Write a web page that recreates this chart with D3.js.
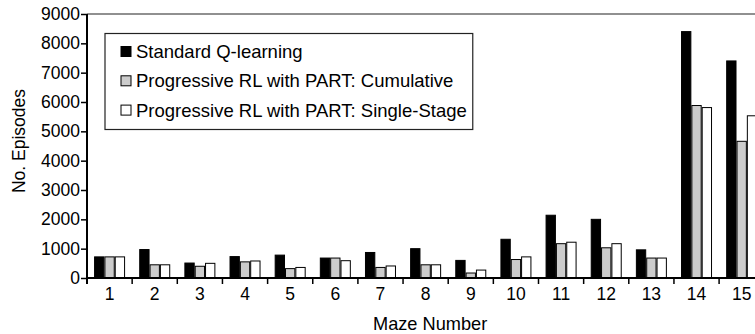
<!DOCTYPE html>
<html>
<head>
<meta charset="utf-8">
<script src="https://cdn.jsdelivr.net/npm/d3@7/dist/d3.min.js"></script>
<style>
  html, body { margin: 0; padding: 0; background: #fff; }
  svg { display: block; }
  text { font-family: "Liberation Sans", Arial, sans-serif; fill: #000; }
</style>
</head>
<body>
<svg id="chart" width="755" height="334"></svg>
<script>
const mazes = ["1","2","3","4","5","6","7","8","9","10","11","12","13","14","15"];
const seriesNames = ["Standard Q-learning", "Progressive RL with PART: Cumulative", "Progressive RL with PART: Single-Stage"];
const standardQ   = [720, 970, 510, 730, 780, 680, 870, 1000, 600, 1320, 2140, 2000, 960, 8400, 7400];
const cumulative  = [720, 450, 400, 550, 320, 680, 360, 450, 170, 630, 1170, 1030, 680, 5880, 4660];
const singleStage = [720, 450, 500, 580, 360, 590, 410, 450, 270, 720, 1220, 1170, 680, 5810, 5530];
const yTicks = [0,1000,2000,3000,4000,5000,6000,7000,8000,9000];
const fills = ["#000000", "#cccccc", "#ffffff"];

const svg = d3.select("#chart");
const pLeft = 87, pTop = 14, pBottom = 278, bandW = 45.15;
const pRight = pLeft + bandW * mazes.length;

const x = d3.scaleBand().domain(mazes).range([pLeft, pRight]).padding(0);
const groupW = 31;
const xs = d3.scaleBand().domain([0,1,2]).range([0, groupW]).padding(0);
const y = d3.scaleLinear().domain([0, 9000]).range([pBottom, pTop]);

const series = [standardQ, cumulative, singleStage];

// top frame line
svg.append("line").attr("x1", pLeft).attr("x2", 755).attr("y1", y(9000)).attr("y2", y(9000))
  .attr("stroke", "#222").attr("stroke-width", 1.2);

// bars
const groups = svg.append("g").selectAll("g").data(mazes).join("g")
  .attr("transform", d => `translate(${x(d) + (x.bandwidth() - groupW) / 2},0)`);
groups.selectAll("rect").data((d, i) => series.map((s, k) => ({k, v: s[i]}))).join("rect")
  .attr("x", d => xs(d.k) + 0.5)
  .attr("width", xs.bandwidth() - 1)
  .attr("y", d => y(d.v))
  .attr("height", d => y(0) - y(d.v))
  .attr("fill", d => fills[d.k])
  .attr("stroke", "#000").attr("stroke-width", 1);

// y axis
const yAxis = d3.axisLeft(y).tickValues(yTicks).tickSize(6).tickPadding(1).tickFormat(d3.format("d"));
const gy = svg.append("g").attr("transform", `translate(${pLeft},0)`).call(yAxis);
gy.select(".domain").attr("stroke-width", 2).attr("d", `M0,${pBottom + 6}V${pTop}`);
gy.selectAll(".tick line").attr("stroke-width", 1.5);
gy.selectAll("text").style("font-size", "17.5px");

// x axis
const xAxis = d3.axisBottom(x).tickSize(0).tickPadding(10);
const gx = svg.append("g").attr("transform", `translate(0,${pBottom})`).call(xAxis);
gx.select(".domain").attr("stroke-width", 2).attr("d", `M${pLeft},0H${pRight}`);
gx.selectAll("text").style("font-size", "17.5px");
// boundary ticks
gx.selectAll("line.bnd").data(mazes).join("line").attr("class", "bnd")
  .attr("x1", d => x(d)).attr("x2", d => x(d)).attr("y1", 0).attr("y2", 6)
  .attr("stroke", "#000").attr("stroke-width", 1.5);

// axis titles
svg.append("text").attr("x", (pLeft + pRight) / 2 + 4.5).attr("y", 330)
  .attr("text-anchor", "middle").style("font-size", "18.2px").text("Maze Number");
svg.append("text").attr("transform", `translate(25,141) rotate(-90)`)
  .attr("text-anchor", "middle").style("font-size", "17.5px").text("No. Episodes");

// legend
const lg = svg.append("g");
const lx = 105, ly = 33.5, rowH = 29.3;
const items = lg.selectAll("g").data(seriesNames).join("g")
  .attr("transform", (d, i) => `translate(${lx + 16},${ly + 18 + i * rowH})`);
items.append("rect").attr("x", 0).attr("y", -5).attr("width", 10).attr("height", 10)
  .attr("fill", (d, i) => fills[i]).attr("stroke", "#000").attr("stroke-width", 1);
items.append("text").attr("x", 15).attr("y", 6.5).style("font-size", "18.5px").text(d => d);
let maxW = 0;
items.selectAll("text").each(function() { maxW = Math.max(maxW, this.getComputedTextLength()); });
lg.insert("rect", ":first-child").attr("x", lx).attr("y", ly)
  .attr("width", 16 + 15 + maxW + 6).attr("height", 96)
  .attr("fill", "#fff").attr("stroke", "#222").attr("stroke-width", 1.2);
</script>
</body>
</html>
